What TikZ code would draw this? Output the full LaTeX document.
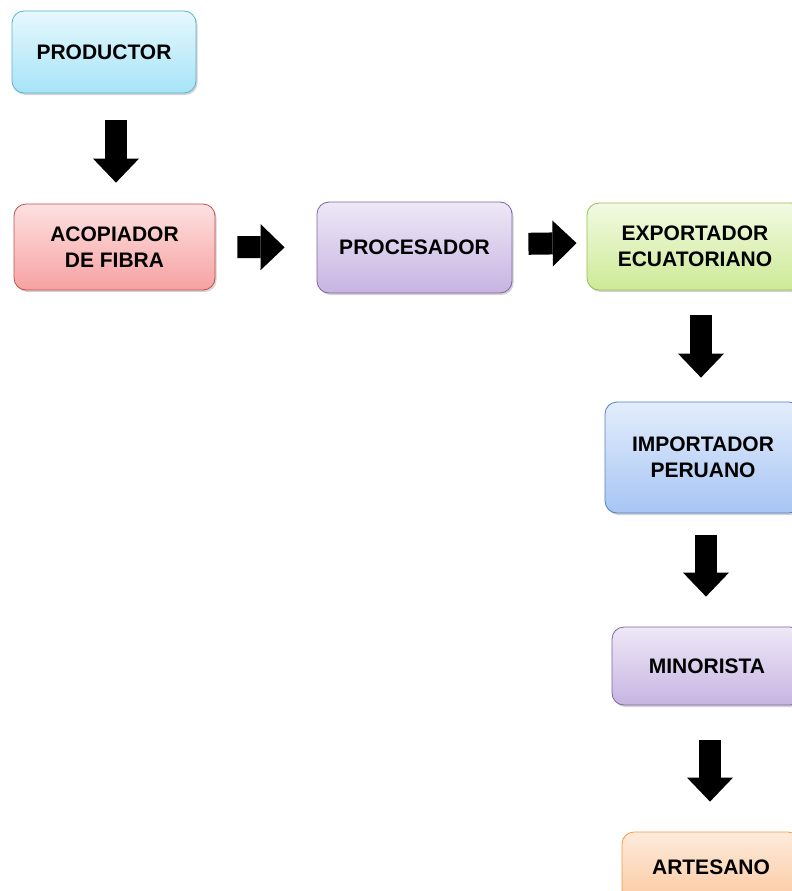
\documentclass[tikz,border=0pt]{standalone}
\usepackage{fontspec}
\setmainfont{Liberation Sans}
\usepackage{xcolor}
\usepackage{tikz}
\usetikzlibrary{arrows.meta,positioning,shadows}

\definecolor{aquaTop}{HTML}{E6F8FD}
\definecolor{aquaBot}{HTML}{A6E4F7}
\definecolor{aquaLine}{HTML}{5BB3CF}
\definecolor{redTop}{HTML}{FDE1E1}
\definecolor{redBot}{HTML}{F7A1A1}
\definecolor{redLine}{HTML}{C0504D}
\definecolor{purTop}{HTML}{EEE8F6}
\definecolor{purBot}{HTML}{C7B4E2}
\definecolor{purLine}{HTML}{8064A2}
\definecolor{grnTop}{HTML}{F2FAE2}
\definecolor{grnBot}{HTML}{CDEA96}
\definecolor{grnLine}{HTML}{9BBB59}
\definecolor{bluTop}{HTML}{E3EDFB}
\definecolor{bluBot}{HTML}{A7C5F4}
\definecolor{bluLine}{HTML}{4F81BD}
\definecolor{orgTop}{HTML}{FDEBDC}
\definecolor{orgBot}{HTML}{FBC9A1}
\definecolor{orgLine}{HTML}{F79646}

\begin{document}
\begin{tikzpicture}[x=1pt, y=-1pt,
    actor/.style={draw, rectangle, rounded corners=12pt, line width=0.8pt, align=center,
      font=\fontsize{21}{26}\selectfont\bfseries,
      drop shadow={shadow xshift=1.5pt, shadow yshift=-2pt, opacity=0.35}},
    blk/.style={line width=22pt, -{Triangle[length=24pt, width=46pt, line width=0pt]}}
  ]
    \useasboundingbox (0,0) rectangle (792,891);
    \node[actor, draw=aquaLine, top color=aquaTop, bottom color=aquaBot,
      minimum width=184pt, minimum height=82pt] (prod) at (104,52) {PRODUCTOR};
    \node[actor, draw=redLine, top color=redTop, bottom color=redBot,
      minimum width=201pt, minimum height=86pt] (acop) at (114.5,247) {ACOPIADOR\\DE FIBRA};
    \node[actor, draw=purLine, top color=purTop, bottom color=purBot,
      minimum width=195pt, minimum height=91pt] (proc) at (414.5,247.5) {PROCESADOR};
    \node[actor, draw=grnLine, top color=grnTop, bottom color=grnBot,
      minimum width=216pt, minimum height=87pt] (expo) at (695,246.5) {EXPORTADOR\\ECUATORIANO};
    \node[actor, draw=bluLine, top color=bluTop, bottom color=bluBot,
      minimum width=196pt, minimum height=111pt] (impo) at (703,457.5) {IMPORTADOR\\PERUANO};
    \node[actor, draw=purLine, top color=purTop, bottom color=purBot,
      minimum width=190pt, minimum height=78pt] (mino) at (707,666) {MINORISTA};
    \node[actor, draw=orgLine, top color=orgTop, bottom color=orgBot,
      minimum width=178pt, minimum height=70pt] (arte) at (711,867) {ARTESANO};
    \draw[blk, shorten <=27pt, shorten >=21pt] ([xshift=12pt]prod.south) -- ([xshift=1.5pt]acop.north);
    \draw[blk, shorten <=22pt, shorten >=32pt] (acop.east) -- (proc.west);
    \draw[blk, shorten <=16pt, shorten >=10pt] ([yshift=3.5pt]proc.east) -- ([yshift=3.5pt]expo.west);
    \draw[blk, shorten <=25pt, shorten >=24pt] ([xshift=6pt]expo.south) -- ([xshift=-2pt]impo.north);
    \draw[blk, shorten <=22pt, shorten >=30pt] ([xshift=3pt]impo.south) -- ([xshift=-1pt]mino.north);
    \draw[blk, shorten <=35pt, shorten >=30pt] ([xshift=3pt]mino.south) -- ([xshift=-1pt]arte.north);
  \end{tikzpicture}
\end{document}
